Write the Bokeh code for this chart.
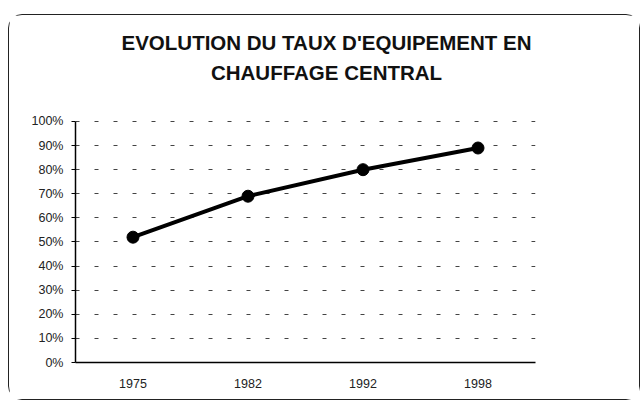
from bokeh.plotting import figure
from bokeh.models import FactorRange, Range1d, NumeralTickFormatter, FixedTicker, Label
from bokeh.embed import file_html
from bokeh.resources import INLINE

years = ["1975", "1982", "1992", "1998"]
taux = [0.52, 0.69, 0.80, 0.89]
y_ticks = [0.0, 0.1, 0.2, 0.3, 0.4, 0.5, 0.6, 0.7, 0.8, 0.9, 1.0]
title_lines = ["EVOLUTION DU TAUX D'EQUIPEMENT EN", "CHAUFFAGE CENTRAL"]

# the frame reaches up to the title area; the axis is bounded to 0..100 %
p = figure(width=632, height=386, output_backend="svg", toolbar_location=None,
           x_range=FactorRange(*years), y_range=Range1d(0, 1.4066),
           min_border_left=66, min_border_right=106, min_border_top=8,
           min_border_bottom=39)
p.styles = {"border": "1.5px solid #222", "border-radius": "14px",
            "margin-left": "8px", "margin-top": "14px"}
p.outline_line_color = None
p.background_fill_color = "white"
p.border_fill_color = "white"
p.title.visible = False

for i, t in enumerate(title_lines):
    p.add_layout(Label(x=251, y=320 - 30 * i, x_units="screen", y_units="screen",
                       text=t, text_align="center", text_baseline="middle",
                       text_font="Liberation Sans", text_font_style="bold",
                       text_font_size="20.5px", text_color="#111"))

p.line(x=years, y=taux, line_color="black", line_width=4)
p.scatter(x=years, y=taux, size=12, fill_color="black", line_color="black")

p.yaxis.ticker = FixedTicker(ticks=y_ticks)
p.yaxis.bounds = (0, 1)
p.yaxis.formatter = NumeralTickFormatter(format="0%")
p.yaxis.major_tick_in = 0
p.yaxis.major_tick_out = 4
p.yaxis.minor_tick_line_color = None
p.yaxis.axis_line_color = "black"
p.yaxis.axis_line_width = 1.5
p.yaxis.major_label_standoff = 8
p.yaxis.major_label_text_font = "Liberation Sans"
p.yaxis.major_label_text_font_size = "12.5px"
p.yaxis.major_label_text_color = "#222"

p.xaxis.major_tick_line_color = None
p.xaxis.axis_line_color = "black"
p.xaxis.axis_line_width = 1.5
p.xaxis.major_label_text_font = "Liberation Sans"
p.xaxis.major_label_text_font_size = "12.5px"
p.xaxis.major_label_text_color = "#222"
p.xaxis.major_label_standoff = 10

p.xgrid.grid_line_color = None
p.ygrid.grid_line_color = "#444"
p.ygrid.grid_line_dash = "4 15"
p.ygrid.grid_line_width = 1

open("out.html", "w").write(file_html(p, INLINE))
